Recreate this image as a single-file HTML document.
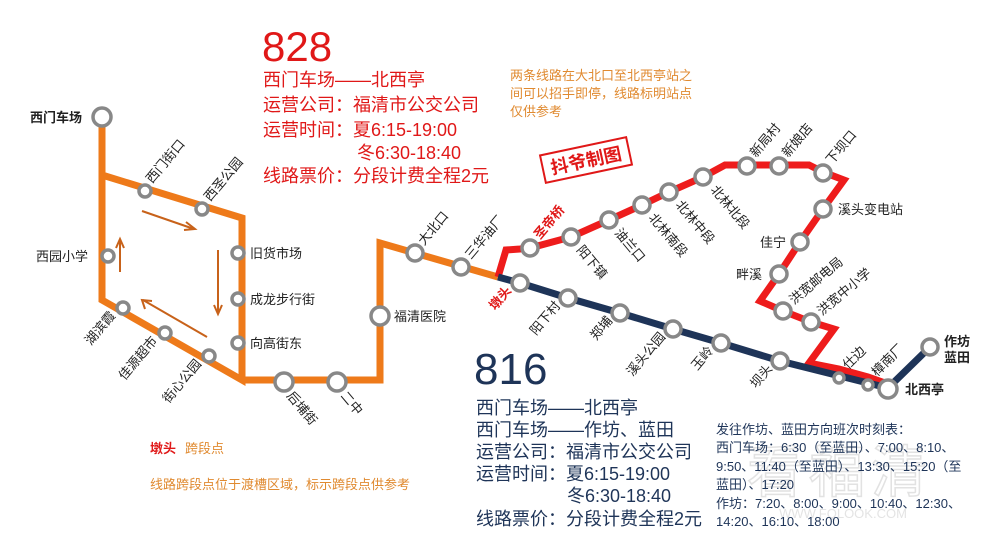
<!DOCTYPE html>
<html><head><meta charset="utf-8"><style>
html,body{margin:0;padding:0;background:#fff}
svg{display:block}
text{font-family:"Liberation Sans","Noto Sans CJK SC",sans-serif}
</style></head><body>
<svg width="1000" height="543" viewBox="0 0 1000 543" xmlns="http://www.w3.org/2000/svg">
<rect width="1000" height="543" fill="#fff"/>
<!-- watermark -->
<text x="840" y="492" font-size="56" fill="none" stroke="#e2e2e2" stroke-width="1.5" text-anchor="middle" letter-spacing="6">看福清</text>
<text x="843" y="518" font-size="13" fill="#e4e4e4" text-anchor="middle">WWW.FQLOOK.COM</text>

<!-- orange line -->
<g fill="none" stroke="#ee7a1a" stroke-width="7" stroke-linejoin="miter">
<polyline points="102,117 102,300 242,380 242,218 102,175"/>
<polyline points="242,380 380,380 380,243 498,277"/>
</g>
<!-- red line -->
<polyline fill="none" stroke="#ee1c1c" stroke-width="7" points="498,277 506,250 520,249 530,248 571,237 609,220 642,205 669,192 703,177 725,165 809,165 823,172 844,180 823,209 800,242 779,274 760,301 783,311 811,322 834,329 809,363 839,369 868,377 888,384"/>
<!-- blue line -->
<polyline fill="none" stroke="#1e3458" stroke-width="7" points="498,277 520,283 568,298 620,313 673,329 721,343 780,361 888,388 930,347"/>

<!-- arrows -->
<g stroke="#c8621a" stroke-width="2" fill="none">
<line x1="142" y1="211" x2="194" y2="229"/><polyline points="186,222 195,229 184,230"/>
<line x1="218" y1="250" x2="218" y2="313"/><polyline points="214,305 218,314 222,305"/>
<line x1="120" y1="272" x2="120" y2="240"/><polyline points="116,248 120,239 124,248"/>
<line x1="207" y1="337" x2="143" y2="300"/><polyline points="145,309 142,300 152,301"/>
</g>

<!-- stations -->
<g fill="#fff" stroke="#888" stroke-width="3.5">
<circle cx="102" cy="117" r="9"/>
<circle cx="145" cy="191" r="6"/><circle cx="202" cy="209" r="6"/>
<circle cx="238" cy="253" r="6"/><circle cx="238" cy="299" r="6"/><circle cx="238" cy="343" r="6"/>
<circle cx="108" cy="256" r="6"/><circle cx="123" cy="308" r="6"/><circle cx="165" cy="333" r="6"/><circle cx="209" cy="356" r="6"/>
<circle cx="284" cy="382" r="9"/><circle cx="337" cy="382" r="9"/><circle cx="380" cy="316" r="9"/>
<circle cx="415" cy="253" r="8"/><circle cx="461" cy="267" r="8"/>
<circle cx="530" cy="248" r="8"/><circle cx="571" cy="237" r="8"/><circle cx="609" cy="220" r="8"/><circle cx="642" cy="205" r="8"/><circle cx="669" cy="192" r="8"/><circle cx="703" cy="177" r="8"/>
<circle cx="747" cy="166" r="8"/><circle cx="779" cy="166" r="8"/><circle cx="823" cy="173" r="8"/>
<circle cx="823" cy="209" r="8"/><circle cx="800" cy="242" r="8"/><circle cx="779" cy="274" r="8"/>
<circle cx="783" cy="311" r="8"/><circle cx="811" cy="322" r="8"/>
<circle cx="839" cy="378" r="5"/><circle cx="868" cy="385" r="5"/>
<circle cx="520" cy="283" r="8"/><circle cx="568" cy="298" r="8"/><circle cx="620" cy="313" r="8"/><circle cx="673" cy="329" r="8"/><circle cx="721" cy="343" r="8"/><circle cx="780" cy="361" r="8"/>
<circle cx="888" cy="389" r="9"/><circle cx="930" cy="347" r="8"/>
</g>

<!-- horizontal labels -->
<g font-size="13" fill="#222">
<text x="30" y="122" font-weight="bold">西门车场</text>
<text x="36" y="261">西园小学</text>
<text x="250" y="258">旧货市场</text>
<text x="250" y="304">成龙步行街</text>
<text x="250" y="348">向高街东</text>
<text x="394" y="321">福清医院</text>
<text x="838" y="214">溪头变电站</text>
<text x="760" y="247">佳宁</text>
<text x="736" y="279">畔溪</text>
<text x="905" y="394" font-weight="bold">北西亭</text>
<text x="944" y="346" font-weight="bold">作坊</text>
<text x="944" y="362" font-weight="bold">蓝田</text>
</g>
<!-- rotated up-right labels starting at station -->
<g font-size="13" fill="#222">
<text transform="translate(152,184) rotate(-50)">西门街口</text>
<text transform="translate(210,202) rotate(-50)">西圣公园</text>
<text transform="translate(424,246) rotate(-50)">大北口</text>
<text transform="translate(471,260) rotate(-50)">三华油厂</text>
<text transform="translate(540,240) rotate(-50)" fill="#e01818" font-weight="bold">圣帝桥</text>
<text transform="translate(756,158) rotate(-50)">新局村</text>
<text transform="translate(788,158) rotate(-50)">新娘店</text>
<text transform="translate(832,165) rotate(-50)">下坝口</text>
<text transform="translate(794,305) rotate(-40)">洪宽邮电局</text>
<text transform="translate(822,316) rotate(-40)">洪宽中小学</text>
<text transform="translate(848,370) rotate(-45)">仕边</text>
<text transform="translate(877,377) rotate(-45)">樟南厂</text>
</g>
<!-- rotated labels ending at station (below-left) -->
<g font-size="13" fill="#222" text-anchor="end">
<text transform="translate(116,316) rotate(-50)">湖滨霞</text>
<text transform="translate(158,341) rotate(-50)">佳源超市</text>
<text transform="translate(202,364) rotate(-50)">街心公园</text>
<text transform="translate(512,291) rotate(-50)" fill="#e01818" font-weight="bold">墩头</text>
<text transform="translate(561,306) rotate(-50)">阳下村</text>
<text transform="translate(613,321) rotate(-50)">郑埔</text>
<text transform="translate(666,337) rotate(-50)">溪头公园</text>
<text transform="translate(714,351) rotate(-50)">玉岭</text>
<text transform="translate(773,369) rotate(-50)">坝头</text>
</g>
<!-- rotated down-right labels -->
<g font-size="13" fill="#222">
<text transform="translate(286,396) rotate(50)">后埔街</text>
<text transform="translate(340,396) rotate(50)">二中</text>
<text transform="translate(576,250) rotate(50)">阳下镇</text>
<text transform="translate(614,233) rotate(50)">油兰口</text>
<text transform="translate(648,218) rotate(50)">北林南段</text>
<text transform="translate(675,205) rotate(50)">北林中段</text>
<text transform="translate(710,190) rotate(50)">北林北段</text>
</g>

<!-- 828 info -->
<g fill="#e01818">
<text x="262" y="61" font-size="42">828</text>
<g font-size="18">
<text x="263" y="86">西门车场——北西亭</text>
<text x="263" y="111">运营公司：福清市公交公司</text>
<text x="263" y="136">运营时间：夏6:15-19:00</text>
<text x="357" y="159">冬6:30-18:40</text>
<text x="263" y="182">线路票价：分段计费全程2元</text>
</g>
</g>
<g font-size="13" fill="#e08a30">
<text x="510" y="80">两条线路在大北口至北西亭站之</text>
<text x="510" y="98">间可以招手即停，线路标明站点</text>
<text x="510" y="116">仅供参考</text>
</g>
<g transform="translate(586,160) rotate(-12)">
<rect x="-44" y="-14" width="88" height="28" fill="none" stroke="#e01818" stroke-width="2"/>
<text x="0" y="7" font-size="18" fill="#e01818" text-anchor="middle" font-weight="bold">抖爷制图</text>
</g>

<!-- 816 info -->
<text x="474" y="384" font-size="44" fill="#1e3458">816</text>
<g font-size="18" fill="#1e3458">
<text x="476" y="414">西门车场——北西亭</text>
<text x="476" y="436">西门车场——作坊、蓝田</text>
<text x="476" y="458">运营公司：福清市公交公司</text>
<text x="476" y="480">运营时间：夏6:15-19:00</text>
<text x="567" y="502">冬6:30-18:40</text>
<text x="476" y="525">线路票价：分段计费全程2元</text>
</g>
<g font-size="13" fill="#1e3458">
<text x="716" y="434">发往作坊、蓝田方向班次时刻表：</text>
<text x="716" y="452">西门车场：6:30（至蓝田）、7:00、8:10、</text>
<text x="716" y="471">9:50、11:40（至蓝田）、13:30、15:20（至</text>
<text x="716" y="489">蓝田）、17:20</text>
<text x="716" y="508">作坊：7:20、8:00、9:00、10:40、12:30、</text>
<text x="716" y="526">14:20、16:10、18:00</text>
</g>

<!-- legend -->
<text x="150" y="453" font-size="13" fill="#e01818" font-weight="bold">墩头</text>
<text x="185" y="453" font-size="13" fill="#e08a30">跨段点</text>
<text x="150" y="489" font-size="13" fill="#e08a30">线路跨段点位于渡槽区域，标示跨段点供参考</text>
</svg>
</body></html>
